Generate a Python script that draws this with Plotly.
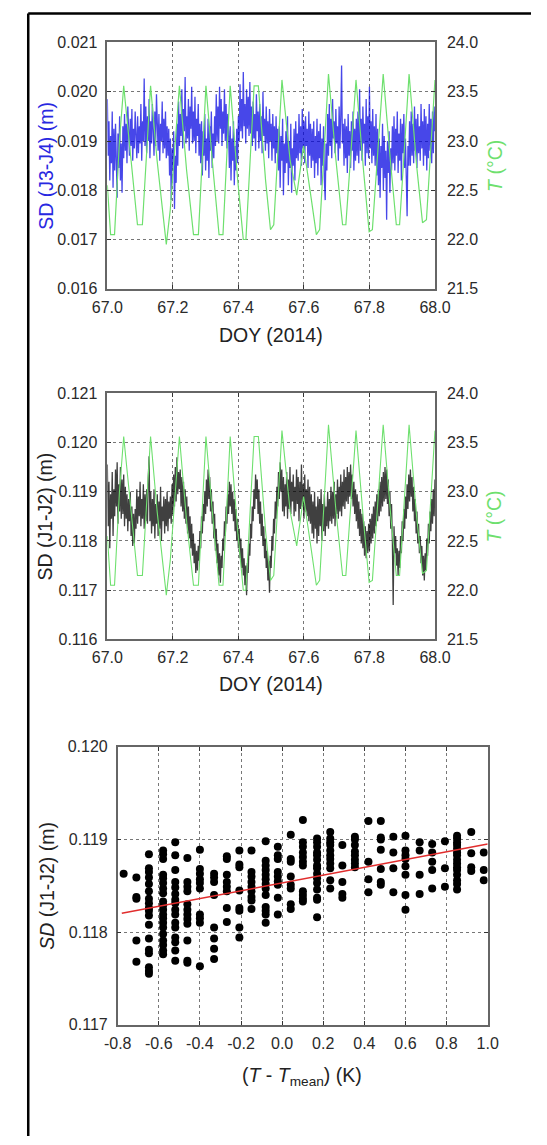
import numpy as np
import plotly.graph_objects as go

# ---------------- data ----------------
# Panel 1: SD (J3-J4) in mm, evenly sampled over DOY 67.0 - 68.0
sd_j3j4_mm = [
    19.85, 18.70, 19.40, 18.20, 19.10, 18.55, 19.60, 18.05, 19.25,
    18.40, 19.35, 18.60, 17.85, 19.15, 18.45, 19.50, 18.20, 18.95, 17.95, 19.30, 18.65,
    19.55, 18.80, 19.35, 18.55, 19.70, 19.00, 18.70, 19.45, 18.90, 19.65, 18.60, 19.25, 18.85, 19.60, 19.05, 18.65, 19.50, 18.75, 19.30, 18.95, 19.75, 18.60, 19.40,
    19.00, 20.27, 18.90,
    19.70, 18.75, 19.50, 19.00, 19.85, 18.65, 19.40, 18.95, 19.75, 19.10, 18.70, 19.60, 18.90, 19.95, 19.05, 18.80, 19.55, 18.60, 19.35, 19.00, 19.80, 18.75, 19.45, 18.85, 19.60, 18.65, 19.30, 18.70,
    19.25, 18.30, 19.05, 17.80, 18.85, 18.40, 19.20, 17.62, 18.70, 18.15, 19.35, 18.50,
    19.80, 18.90, 19.55, 19.10, 20.05, 18.85, 19.65, 19.20, 20.30, 18.95, 19.50, 19.05, 19.85, 18.80, 19.70, 19.25, 20.10, 18.95, 19.60, 19.00, 19.90, 18.75, 19.45, 19.10, 19.75, 18.70, 19.35,
    18.55, 19.40, 18.30, 19.20, 18.70, 19.55, 18.40, 19.05, 18.60, 19.45, 18.25, 19.30, 18.80, 19.60, 18.45, 19.15, 18.65, 19.50, 18.90,
    19.95, 19.00, 19.70, 18.95, 20.10, 19.25, 19.85, 18.90, 19.60, 19.15, 20.05, 19.00, 19.75, 18.85, 19.55, 19.20,
    18.45, 19.30, 18.20, 19.05, 18.60, 19.40, 18.10, 18.90, 18.40, 19.25, 18.55, 19.50,
    19.00, 20.15, 19.20, 19.85, 19.05, 20.40, 19.30, 19.75, 18.95, 20.05, 19.25, 19.90, 19.10, 20.20, 19.15, 19.70,
    18.90, 19.80, 19.05, 19.55, 18.80, 19.95, 19.20, 19.60, 18.85, 19.75, 19.00, 19.50, 18.75, 20.00, 19.10, 19.45,
    18.80, 19.70, 18.95, 19.40, 18.65, 19.65, 19.00, 19.35, 18.60, 19.55, 18.85, 19.30, 18.55, 19.50, 18.75, 19.25,
    18.40, 19.30, 18.05, 19.10, 18.60, 19.45, 17.90, 18.95, 18.35, 19.20, 18.55, 19.50, 18.10, 19.00, 18.45, 19.35, 17.95, 18.85, 18.50, 19.25, 18.20, 19.40, 18.65, 19.15,
    18.60, 19.55, 18.75, 19.30, 18.50, 19.65, 18.85, 19.40, 18.55, 19.50, 18.90, 19.25, 18.45, 19.60, 18.70, 19.35,
    18.45, 19.25, 18.60, 19.40, 18.25, 19.10, 18.55, 19.45, 18.30, 19.20, 18.65, 19.35, 18.10, 19.05, 18.50, 19.30, 18.20, 17.80, 18.95, 18.40,
    19.55, 18.70, 19.75, 18.90, 19.45, 18.65, 19.85, 19.05, 19.40, 18.75, 19.65, 18.95, 19.30, 18.60, 19.70, 18.85, 19.50, 20.53, 18.95, 19.35,
    18.50, 19.45, 18.65, 19.30, 18.35, 19.55, 18.70, 19.20, 18.45, 19.40, 18.80, 19.60, 18.40, 19.25, 18.60, 19.45,
    18.70, 19.60, 18.55, 20.05, 18.80, 19.45, 18.60, 19.70, 18.95, 19.35, 18.50, 19.85, 18.75, 19.50, 18.65, 20.10, 18.85, 19.40, 18.55, 19.65, 18.70, 19.30, 18.50, 19.55,
    18.30, 19.25, 18.10, 19.05, 17.85, 18.90, 18.45, 19.35, 18.00, 19.10, 18.25, 18.80, 17.40, 19.00, 18.35, 19.20, 17.95, 18.85, 18.40, 19.30,
    18.55, 19.50, 18.40, 19.25, 18.70, 19.60, 18.35, 19.15, 18.60, 19.45, 18.20, 19.35, 18.75, 19.55, 18.45, 19.05, 18.25, 17.47, 18.90, 18.50,
    19.40, 18.50, 19.60, 18.70, 19.35, 18.55, 19.70, 18.80, 19.45, 18.45, 19.55, 18.75, 19.30, 18.60, 19.75, 18.85,
    19.40, 18.50, 19.65, 18.70, 19.50, 18.40, 19.35, 18.65, 19.75, 18.80, 19.45, 18.55, 19.60, 18.75, 19.70, 19.20,
]

# Panel 2: SD (J1-J2) in mm, evenly sampled over DOY 67.0 - 68.0
sd_j1j2_mm = [
    119.55, 118.30, 119.20, 117.85, 118.95, 118.45, 119.40, 118.10, 119.05,
    118.50, 119.45, 118.70, 119.60, 118.35, 119.15, 118.60, 119.50, 118.45, 119.25, 118.55, 119.35,
    118.30, 119.10, 118.45, 118.95, 118.20, 118.85, 118.40, 119.00, 118.10, 118.70, 117.90, 118.55, 117.95, 118.65,
    118.25, 119.05, 118.35, 118.90, 118.50, 119.20, 118.30, 118.85, 118.45, 119.15, 118.25, 118.95, 118.40, 119.05,
    118.35, 119.30, 119.72, 118.40,
    119.00, 118.15, 118.85, 118.30, 119.05, 118.05, 118.75, 118.35, 118.95, 118.10, 118.80, 118.25,
    119.10, 118.00, 118.70, 118.40, 118.90, 118.15, 118.85, 118.30, 119.00, 118.20, 118.80, 118.45,
    118.90, 118.35, 119.15, 118.55, 119.35, 118.70, 119.50, 118.80, 119.70, 118.95, 119.40, 119.05,
    119.45, 118.70, 119.30, 118.60, 119.20, 118.45, 119.05, 118.35, 118.90, 118.15, 118.70, 118.05,
    118.50, 117.85, 118.35, 117.70, 118.15, 117.55, 117.95, 117.35, 117.80, 117.40,
    117.90, 117.60, 118.20, 117.85, 118.50, 118.15, 118.75, 118.40, 119.00, 118.55, 119.25, 118.70, 119.45, 118.85,
    119.30, 118.60, 119.05, 118.35, 118.80, 118.05, 118.55, 117.80, 118.25, 117.55, 117.95, 117.30, 117.75, 117.15,
    117.70, 117.45, 118.05, 117.80, 118.40, 118.10, 118.70, 118.35, 118.95, 118.55, 119.20, 118.70,
    119.15, 118.55, 119.00, 118.40, 118.85, 118.20, 118.65, 118.00, 118.45, 117.85,
    118.25, 117.65, 118.05, 117.45, 117.85, 117.30, 117.65, 117.10, 117.50, 116.90,
    117.55, 117.35, 117.95, 117.70, 118.35, 118.05, 118.70, 118.40, 119.05, 118.65, 119.35, 118.85,
    119.25, 118.55, 119.05, 118.35, 118.80, 118.10, 118.55, 117.90, 118.30, 117.65, 118.05, 117.45, 117.80, 117.20, 117.60, 116.95,
    117.70, 117.45, 118.10, 117.80, 118.45, 118.15, 118.80, 118.45, 119.10, 118.70, 119.40, 118.85, 119.60, 119.00,
    119.45, 118.60, 119.30, 118.50, 119.15, 118.70, 119.40, 118.45, 119.25, 118.65, 119.50, 118.55,
    119.20, 118.80, 119.35, 118.50, 119.10, 118.60, 119.45, 118.75, 119.30, 118.40, 119.20, 118.65,
    119.55, 118.70, 119.15, 118.45, 119.35, 118.60, 119.05, 118.50, 119.25, 118.40, 119.10, 118.35,
    118.95, 118.15, 118.80, 118.05, 119.00, 118.25, 118.70, 117.95, 118.90, 118.10, 118.85, 118.30,
    119.05, 118.00, 118.75, 118.20, 118.95, 118.10, 118.70, 118.30, 119.00, 118.25, 118.85, 118.40,
    119.10, 118.35, 119.00, 118.45, 119.20, 118.30, 118.95, 118.55, 119.25, 118.45, 119.10, 118.60,
    119.35, 118.50, 119.20, 118.70, 119.45, 118.65, 119.30, 118.80, 119.50, 118.75, 119.40, 118.90, 119.55,
    118.85, 119.35, 118.70, 119.20, 118.55, 119.05, 118.40, 118.95, 118.25, 118.80, 118.10,
    118.65, 117.95, 118.55, 117.85, 118.40, 117.70, 118.30, 117.65, 118.20, 117.75,
    118.35, 117.80, 118.45, 117.95, 118.55, 118.05, 118.70, 118.15, 118.80, 118.30, 118.95, 118.40,
    119.05, 118.50, 119.20, 118.60, 119.30, 118.70, 119.40, 118.80, 119.50, 118.85, 119.45,
    118.75, 119.25, 118.50, 119.00, 118.25, 118.75, 118.00, 116.70, 118.30, 117.75, 118.10, 117.50, 117.85, 117.30,
    117.80, 117.45, 118.10, 117.75, 118.40, 118.00, 118.65, 118.25, 118.90, 118.45, 119.15, 118.65, 119.35, 118.80, 119.45, 118.90,
    119.30, 118.60, 119.10, 118.40, 118.85, 118.15, 118.60, 117.95, 118.35, 117.75, 118.10, 117.55, 117.90, 117.30, 117.70, 117.20,
    117.75, 117.40, 118.05, 117.70, 118.35, 117.95, 118.60, 118.20, 118.85, 118.35, 119.05, 118.50, 119.25,
]

# Temperature T [deg C] (same sensor in both panels)
t_doy = [67.000, 67.010, 67.022, 67.037, 67.050, 67.067, 67.092, 67.107, 67.132, 67.152,
         67.180, 67.192, 67.220, 67.242, 67.263, 67.278, 67.301, 67.323, 67.341, 67.353,
         67.375, 67.398, 67.415, 67.423, 67.448, 67.461, 67.483, 67.498, 67.508, 67.533,
         67.558, 67.578, 67.599, 67.623, 67.638, 67.648, 67.675, 67.698, 67.718, 67.728,
         67.759, 67.782, 67.799, 67.809, 67.842, 67.864, 67.882, 67.892, 67.921, 67.944,
         67.962, 67.974, 68.000]
t_degc = [22.55, 22.05, 22.05, 23.00, 23.56, 23.00, 22.15, 22.15, 23.56, 22.80,
          21.95, 22.30, 23.56, 22.70, 22.05, 22.05, 23.56, 22.70, 22.05, 22.05,
          23.56, 22.60, 22.00, 22.00, 23.56, 23.56, 22.60, 22.10, 22.15, 23.62,
          22.80, 22.45, 22.95, 22.40, 22.05, 22.10, 23.68, 22.80, 22.15, 22.15,
          23.62, 22.70, 22.08, 22.10, 23.68, 22.80, 22.15, 22.15, 23.68, 22.75,
          22.17, 22.20, 23.62]

# Panel 3: scatter, temperature deviation levels [K] and SD (J1-J2) [m]
dT_levels = [-0.771, -0.709, -0.648, -0.579, -0.520, -0.461, -0.400, -0.331, -0.269, -0.208,
             -0.149, -0.080, -0.021, 0.042, 0.101, 0.170, 0.234, 0.293, 0.354, 0.420,
             0.480, 0.541, 0.600, 0.669, 0.730, 0.792, 0.851, 0.920, 0.981]
sd_by_level = [
    [0.11863],
    [0.11859, 0.11838, 0.11836, 0.11791, 0.11768],
    [0.11884, 0.11869, 0.11865, 0.11859, 0.11852, 0.11844, 0.11836, 0.11831, 0.11826, 0.11823,
     0.11818, 0.11808, 0.11793, 0.11781, 0.11777, 0.11762, 0.11758, 0.11755],
    [0.11888, 0.11884, 0.11879, 0.11862, 0.11858, 0.11853, 0.11847, 0.11842, 0.11833, 0.11829,
     0.11824, 0.11819, 0.11815, 0.11810, 0.11805, 0.11798, 0.11791, 0.11786, 0.11780, 0.11776],
    [0.11897, 0.11883, 0.11867, 0.11854, 0.11848, 0.11841, 0.11835, 0.11831, 0.11824, 0.11819,
     0.11810, 0.11805, 0.11794, 0.11789, 0.11780, 0.11769],
    [0.11880, 0.11854, 0.11849, 0.11844, 0.11830, 0.11824, 0.11819, 0.11814, 0.11809, 0.11791,
     0.11769, 0.11767],
    [0.11889, 0.11868, 0.11863, 0.11857, 0.11853, 0.11847, 0.11819, 0.11815, 0.11810, 0.11763],
    [0.11863, 0.11859, 0.11854, 0.11840, 0.11805, 0.11793, 0.11782, 0.11771],
    [0.11882, 0.11879, 0.11862, 0.11854, 0.11849, 0.11844, 0.11826, 0.11811],
    [0.11888, 0.11873, 0.11870, 0.11845, 0.11826, 0.11823, 0.11805, 0.11794],
    [0.11888, 0.11865, 0.11860, 0.11854, 0.11849, 0.11844, 0.11838, 0.11834, 0.11825],
    [0.11898, 0.11877, 0.11872, 0.11867, 0.11862, 0.11857, 0.11852, 0.11847, 0.11840, 0.11827,
     0.11823, 0.11819, 0.11810],
    [0.11892, 0.11883, 0.11879, 0.11865, 0.11860, 0.11855, 0.11851, 0.11837, 0.11819],
    [0.11905, 0.11879, 0.11876, 0.11860, 0.11851, 0.11847, 0.11830, 0.11825],
    [0.11921, 0.11897, 0.11892, 0.11886, 0.11881, 0.11876, 0.11872, 0.11844, 0.11840, 0.11836,
     0.11833],
    [0.11901, 0.11897, 0.11892, 0.11886, 0.11883, 0.11878, 0.11872, 0.11869, 0.11863, 0.11858,
     0.11853, 0.11846, 0.11837, 0.11835, 0.11816],
    [0.11908, 0.11901, 0.11897, 0.11894, 0.11888, 0.11883, 0.11879, 0.11874, 0.11869, 0.11856,
     0.11847],
    [0.11894, 0.11872, 0.11854, 0.11841, 0.11837],
    [0.11903, 0.11900, 0.11894, 0.11887, 0.11883, 0.11878, 0.11874, 0.11870],
    [0.11920, 0.11876, 0.11857, 0.11843],
    [0.11920, 0.11902, 0.11900, 0.11889, 0.11868, 0.11854, 0.11851],
    [0.11903, 0.11886, 0.11869, 0.11843],
    [0.11904, 0.11888, 0.11883, 0.11879, 0.11871, 0.11862, 0.11840, 0.11824],
    [0.11897, 0.11888, 0.11862, 0.11841],
    [0.11895, 0.11886, 0.11876, 0.11867, 0.11847],
    [0.11898, 0.11869, 0.11849],
    [0.11904, 0.11901, 0.11897, 0.11894, 0.11890, 0.11886, 0.11883, 0.11878, 0.11874, 0.11870,
     0.11867, 0.11862, 0.11856, 0.11852, 0.11846],
    [0.11908, 0.11885, 0.11870, 0.11866],
    [0.11886, 0.11867, 0.11856],
]
# linear fit SD = intercept + slope * dT
fit_intercept = 0.11853
fit_slope = 0.00042
fit_range = [-0.78, 1.0]

# tick labels
doy_ticks = [67.0, 67.2, 67.4, 67.6, 67.8, 68.0]
sd1_ticks = [0.016, 0.017, 0.018, 0.019, 0.020, 0.021]
sd2_ticks = [0.116, 0.117, 0.118, 0.119, 0.120, 0.121]
t_ticks = [21.5, 22.0, 22.5, 23.0, 23.5, 24.0]
dT_ticks = [-0.8, -0.6, -0.4, -0.2, 0.0, 0.2, 0.4, 0.6, 0.8, 1.0]
dT_ticktext = ["-0.8", "-0.6", "-0.4", "-0.2", "0.0", "0.2", "0.4", "0.6", "0.8", "1.0"]
sd3_ticks = [0.117, 0.118, 0.119, 0.120]

# ---------------- figure ----------------
W, H = 547, 1145
def px(x):
    return x / W
def py(y):
    return 1 - y / H

sd_j3j4 = np.array(sd_j3j4_mm) / 1000.0   # mm -> m
sd_j1j2 = np.array(sd_j1j2_mm) / 1000.0
doy1 = 67.0 + np.arange(len(sd_j3j4)) / (len(sd_j3j4) - 1)
doy2 = 67.0 + np.arange(len(sd_j1j2)) / (len(sd_j1j2) - 1)
scat_x = [x for x, ys in zip(dT_levels, sd_by_level) for _ in ys]
scat_y = [y for ys in sd_by_level for y in ys]
fit_y = [fit_intercept + fit_slope * x for x in fit_range]

GREEN = "rgb(110,224,110)"
BLUE = "rgb(40,40,225)"
FONT = "Liberation Sans, Arial, sans-serif"
TICKC = "#2a2a2a"
FRAME = "#666666"

fig = go.Figure()
# panel 1
fig.add_trace(go.Scatter(x=t_doy, y=t_degc, mode="lines", line=dict(color=GREEN, width=1.2),
                         xaxis="x", yaxis="y2", showlegend=False))
fig.add_trace(go.Scatter(x=doy1, y=sd_j3j4, mode="lines", line=dict(color="rgba(0,0,225,0.72)", width=1.3),
                         xaxis="x", yaxis="y", showlegend=False))
# panel 2
fig.add_trace(go.Scatter(x=doy2, y=sd_j1j2, mode="lines", line=dict(color="rgba(0,0,0,0.75)", width=1.3),
                         xaxis="x2", yaxis="y3", showlegend=False))
fig.add_trace(go.Scatter(x=t_doy, y=t_degc, mode="lines", line=dict(color=GREEN, width=1.1),
                         xaxis="x2", yaxis="y4", showlegend=False))
# panel 3
fig.add_trace(go.Scatter(x=scat_x, y=scat_y, mode="markers", marker=dict(color="black", size=8),
                         xaxis="x3", yaxis="y5", showlegend=False))
fig.add_trace(go.Scatter(x=fit_range, y=fit_y, mode="lines", line=dict(color="rgb(225,45,45)", width=1.5),
                         xaxis="x3", yaxis="y5", showlegend=False))

tickfont = dict(family=FONT, size=16, color=TICKC)
common = dict(showline=True, linecolor=FRAME, linewidth=1.5, ticks="inside", ticklen=4,
              tickcolor="#333", tickfont=tickfont, zeroline=False)
grid = dict(showgrid=True, gridcolor="#777777", griddash="dot", gridwidth=1)

d1x = [px(97), px(445)]
d1y = [py(285), py(35)]
d2y = [py(641), py(391)]
d3x = [px(108), px(501)]
d3y = [py(1032), py(750)]

fig.update_layout(
    width=W, height=H, margin=dict(l=0, r=0, t=0, b=0),
    paper_bgcolor="white", plot_bgcolor="white",
    font=dict(family=FONT, color=TICKC),
    xaxis=dict(domain=d1x, anchor="y", range=[67, 68], tickvals=doy_ticks, tickformat=".1f",
               mirror="ticks", ticklabelstandoff=3, **common, **grid),
    yaxis=dict(domain=d1y, anchor="x", range=[0.016, 0.021], tickvals=sd1_ticks, tickformat=".3f",
               ticklabelstandoff=5, **common, **grid),
    yaxis2=dict(overlaying="y", anchor="x", side="right", range=[21.5, 24.0], tickvals=t_ticks,
                tickformat=".1f", showgrid=False, ticklabelstandoff=7, **common),
    xaxis2=dict(domain=d1x, anchor="y3", range=[67, 68], tickvals=doy_ticks, tickformat=".1f",
                mirror="ticks", ticklabelstandoff=3, **common, **grid),
    yaxis3=dict(domain=d2y, anchor="x2", range=[0.116, 0.121], tickvals=sd2_ticks, tickformat=".3f",
                ticklabelstandoff=5, **common, **grid),
    yaxis4=dict(overlaying="y3", anchor="x2", side="right", range=[21.5, 24.0], tickvals=t_ticks,
                tickformat=".1f", showgrid=False, ticklabelstandoff=7, **common),
    xaxis3=dict(domain=d3x, anchor="y5", range=[-0.8, 1.0], tickvals=dT_ticks, ticktext=dT_ticktext,
                mirror="ticks", ticklabelstandoff=3, **common, **grid),
    yaxis5=dict(domain=d3y, anchor="x3", range=[0.117, 0.120], tickvals=sd3_ticks, tickformat=".3f",
                mirror="ticks", ticklabelstandoff=5, **common, **grid),
)

TITLE = 19.5
ann = [
    dict(text="DOY (2014)", x=px(271), y=py(332)),
    dict(text="DOY (2014)", x=px(271), y=py(686)),
    dict(text="(<i>T</i> - <i>T</i><sub>mean</sub>) (K)", x=px(304), y=py(1085)),
    dict(text="SD (J3-J4) (m)", x=px(31), y=py(160), textangle=-90, color=BLUE),
    dict(text="<i>T</i> (°C)", x=px(508), y=py(160), textangle=-90, color=GREEN),
    dict(text="SD (J1-J2) (m)", x=px(31), y=py(516), textangle=-90),
    dict(text="<i>T</i> (°C)", x=px(508), y=py(516), textangle=-90, color=GREEN),
    dict(text="<i>SD</i> (J1-J2) (m)", x=px(33), y=py(891), textangle=-90),
]
for a in ann:
    color = a.pop("color", "#222222")
    fig.add_annotation(xref="paper", yref="paper", showarrow=False, xanchor="center", yanchor="middle",
                       font=dict(family=FONT, size=TITLE, color=color), **a)

# outer frame (left and top edges visible)
fig.add_shape(type="line", xref="paper", yref="paper", x0=px(13), x1=1.0, y0=py(5.5), y1=py(5.5),
              line=dict(color="black", width=2.5))
fig.add_shape(type="line", xref="paper", yref="paper", x0=px(13), x1=px(13), y0=0, y1=py(5.5),
              line=dict(color="black", width=2.5))

fig.write_html("out.html")
